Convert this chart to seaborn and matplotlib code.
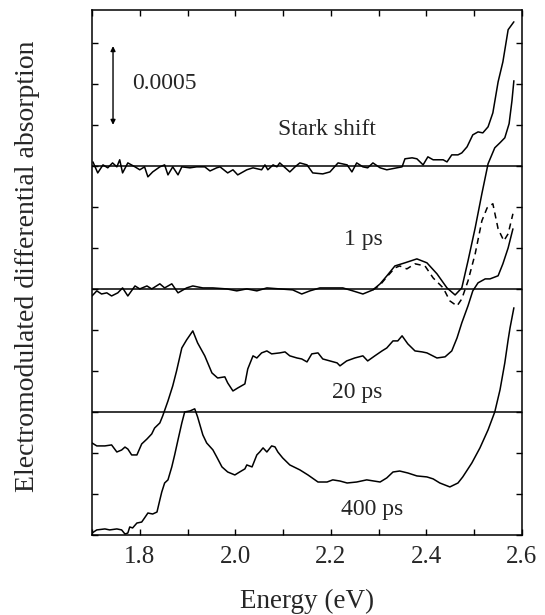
import numpy as np
import pandas as pd
import matplotlib
matplotlib.use("Agg")
import matplotlib.pyplot as plt
import seaborn as sns

# ---- data (signal in units of 1e-4) ----
stark_E = [1.702, 1.712, 1.723, 1.733, 1.743, 1.752, 1.758, 1.764, 1.775, 1.790, 1.800, 1.810,
           1.817, 1.827, 1.842, 1.852, 1.859, 1.869, 1.880, 1.888, 1.905, 1.919, 1.936, 1.947,
           1.961, 1.968, 1.984, 1.995, 2.005, 2.024, 2.037, 2.055, 2.062, 2.068, 2.079, 2.087,
           2.093, 2.114, 2.125, 2.135, 2.150, 2.162, 2.183, 2.198, 2.215, 2.234, 2.244, 2.254,
           2.267, 2.277, 2.288, 2.303, 2.317, 2.338, 2.349, 2.355, 2.370, 2.380, 2.393, 2.403,
           2.414, 2.435, 2.443, 2.453, 2.466, 2.474, 2.485, 2.497, 2.508, 2.518, 2.529, 2.539,
           2.550, 2.560, 2.571, 2.583]
stark_S = [0.24, -0.43, 0.06, -0.12, 0.18, -0.06, 0.37, -0.43, 0.18, -0.06, -0.24, -0.06,
           -0.67, -0.37, -0.06, 0.06, -0.55, -0.06, -0.55, -0.06, -0.12, -0.06, -0.06, -0.31,
           -0.12, -0.06, -0.43, -0.24, -0.55, -0.24, -0.12, -0.24, 0.06, -0.24, 0.06, -0.06,
           0.18, -0.37, -0.06, 0.18, 0.06, -0.43, -0.49, -0.37, 0.18, 0.06, -0.37, 0.18,
           -0.06, -0.12, 0.18, -0.12, -0.24, -0.12, -0.06, 0.43, 0.49, 0.43, 0.06, 0.55,
           0.37, 0.37, 0.24, 0.67, 0.67, 0.79, 1.16, 1.89, 2.07, 2.01, 2.38, 3.23,
           5.12, 6.34, 8.30, 8.78]

ps1_E = [1.700, 1.710, 1.720, 1.731, 1.741, 1.754, 1.764, 1.775, 1.790, 1.800, 1.815, 1.825,
         1.842, 1.852, 1.867, 1.880, 1.898, 1.911, 1.932, 1.953, 1.982, 2.003, 2.024, 2.045,
         2.066, 2.093, 2.120, 2.139, 2.156, 2.177, 2.204, 2.225, 2.246, 2.267, 2.288, 2.303,
         2.317, 2.334, 2.355, 2.380, 2.401, 2.422, 2.443, 2.460, 2.474, 2.487, 2.502, 2.516,
         2.529, 2.543, 2.554, 2.564, 2.573, 2.579, 2.583]
ps1_S = [-0.43, -0.12, -0.31, -0.24, -0.43, -0.24, 0.06, -0.43, 0.18, 0.00, 0.18, 0.00,
         0.31, 0.06, 0.31, -0.24, 0.06, 0.18, 0.06, 0.06, 0.00, -0.12, 0.00, -0.12,
         0.06, 0.00, -0.06, -0.31, -0.12, 0.06, 0.06, 0.06, -0.12, -0.31, -0.06, 0.31,
         0.79, 1.40, 1.59, 1.83, 1.59, 0.92, 0.06, -0.37, 0.06, 1.71, 3.72, 5.80,
         7.63, 8.60, 8.91, 9.21, 10.07, 11.47, 12.69]

ps1_fit_E = [2.288, 2.303, 2.317, 2.334, 2.344, 2.359, 2.376, 2.397, 2.414, 2.435, 2.449, 2.464,
             2.474, 2.487, 2.502, 2.516, 2.527, 2.539, 2.550, 2.562, 2.571, 2.581]
ps1_fit_S = [-0.06, 0.24, 0.73, 1.28, 1.40, 1.22, 1.53, 1.40, 0.67, 0.06, -0.73, -1.04,
             -0.61, 0.49, 2.14, 4.15, 4.94, 5.19, 3.66, 2.93, 3.36, 4.58]

ps20_E = [1.700, 1.710, 1.727, 1.741, 1.752, 1.762, 1.769, 1.775, 1.783, 1.794, 1.804, 1.815,
          1.825, 1.831, 1.842, 1.848, 1.859, 1.869, 1.877, 1.888, 1.898, 1.911, 1.921, 1.936,
          1.951, 1.963, 1.978, 1.984, 1.995, 2.005, 2.020, 2.026, 2.037, 2.045, 2.055, 2.066,
          2.076, 2.093, 2.104, 2.114, 2.129, 2.139, 2.150, 2.160, 2.173, 2.183, 2.198, 2.213,
          2.219, 2.233, 2.250, 2.267, 2.277, 2.292, 2.307, 2.317, 2.330, 2.340, 2.349, 2.361,
          2.376, 2.391, 2.401, 2.422, 2.439, 2.453, 2.464, 2.474, 2.487, 2.497, 2.508, 2.523,
          2.533, 2.550, 2.560, 2.571, 2.581]
ps20_S = [-1.89, -2.07, -2.07, -2.01, -2.44, -2.32, -2.14, -2.26, -2.62, -2.62, -1.95, -1.65,
          -1.34, -0.98, -0.67, -0.24, 0.67, 1.59, 2.50, 3.90, 4.39, 4.94, 4.21, 3.42,
          2.38, 2.07, 2.14, 1.77, 1.28, 1.46, 1.71, 2.62, 3.42, 3.29, 3.60, 3.72,
          3.54, 3.60, 3.66, 3.42, 3.29, 3.23, 3.05, 3.54, 3.60, 3.23, 3.11, 2.99,
          2.81, 3.11, 3.29, 3.42, 3.11, 3.42, 3.72, 3.90, 4.33, 4.33, 4.64, 4.15,
          3.72, 3.66, 3.60, 3.29, 3.36, 3.72, 4.51, 5.43, 6.47, 7.38, 7.87, 8.11,
          8.11, 8.30, 9.03, 10.00, 11.16]

ps400_E = [1.700, 1.710, 1.727, 1.737, 1.752, 1.762, 1.769, 1.775, 1.779, 1.785, 1.794, 1.804,
           1.810, 1.817, 1.827, 1.836, 1.842, 1.846, 1.852, 1.859, 1.867, 1.873, 1.880, 1.888,
           1.894, 1.905, 1.915, 1.921, 1.932, 1.940, 1.953, 1.961, 1.972, 1.984, 1.999, 2.009,
           2.020, 2.024, 2.035, 2.045, 2.051, 2.058, 2.066, 2.076, 2.083, 2.089, 2.099, 2.114,
           2.135, 2.152, 2.173, 2.192, 2.204, 2.219, 2.234, 2.254, 2.275, 2.303, 2.317, 2.330,
           2.344, 2.361, 2.380, 2.401, 2.414, 2.428, 2.449, 2.466, 2.476, 2.495, 2.512, 2.529,
           2.543, 2.554, 2.564, 2.571, 2.575, 2.583]
ps400_S = [0.12, 0.31, 0.37, 0.31, 0.37, 0.31, 0.06, 0.12, 0.49, 0.43, 0.73, 0.79,
           1.04, 1.34, 1.28, 1.40, 2.14, 2.62, 3.17, 3.36, 4.15, 4.88, 5.80, 6.83,
           7.50, 7.56, 7.69, 7.20, 6.10, 5.61, 5.19, 4.76, 4.15, 3.84, 3.66, 3.84,
           4.03, 4.27, 4.15, 4.88, 5.06, 5.31, 5.06, 5.43, 5.37, 5.06, 4.70, 4.27,
           3.97, 3.66, 3.23, 3.23, 3.36, 3.29, 3.17, 3.23, 3.36, 3.23, 3.48, 3.84,
           3.90, 3.78, 3.60, 3.54, 3.42, 3.17, 2.93, 3.17, 3.54, 4.39, 5.31, 6.41,
           7.50, 8.85, 10.49, 11.90, 12.63, 13.85]

offsets = {"Stark shift": 22.5, "1 ps": 15.0, "20 ps": 7.5, "400 ps": 0.0}
baselines = [22.5, 15.0, 7.5]
xticks = [1.8, 2.0, 2.2, 2.4, 2.6]

# ---- figure ----
sns.set_style("ticks")
plt.rcParams["font.family"] = ["Liberation Serif", "DejaVu Serif"]

fig = plt.figure(figsize=(5.45, 6.15), dpi=100)
ax = fig.add_axes([92 / 545, 1 - 535 / 615, (522 - 92) / 545, (535 - 10) / 615])

def draw(E, S, off, ls="-"):
    df = pd.DataFrame({"E": E, "y": np.asarray(S) + off})
    sns.lineplot(data=df, x="E", y="y", ax=ax, color="black", lw=1.1,
                 estimator=None, sort=False, linestyle=ls)

draw(stark_E, stark_S, offsets["Stark shift"])
draw(ps1_E, ps1_S, offsets["1 ps"])
draw(ps1_fit_E, ps1_fit_S, offsets["1 ps"], ls=(0, (4, 3)))
draw(ps20_E, ps20_S, offsets["20 ps"])
draw(ps400_E, ps400_S, offsets["400 ps"])

for b in baselines:
    ax.axhline(b, color="black", lw=1.1)

ax.set_xlim(1.7, 2.6)
ax.set_ylim(0, 32.0)
ax.set_xticks(xticks)
ax.set_xticklabels([f"{v:.1f}" for v in xticks])
ax.set_xticks(np.arange(1.7, 2.61, 0.1), minor=True)
ax.set_yticks(np.arange(0, 31, 2.5))
ax.set_yticklabels([])
ax.tick_params(axis="both", which="both", direction="in", top=True, right=True,
               length=4, width=1.0, color="black")
ax.tick_params(axis="x", which="major", labelsize=18, pad=8)
for s in ax.spines.values():
    s.set_linewidth(1.1)
    s.set_color("black")
ax.set_xlabel("")
ax.set_ylabel("")

fig.text(307 / 545, 1 - 601 / 615, "Energy (eV)", ha="center", va="center", fontsize=19.5)
fig.text(28 / 545, 1 - 266 / 615, "Electromodulated differential absorption",
         rotation=90, ha="center", va="center", fontsize=20)

ax.text(2.192, 24.7, "Stark shift", ha="center", va="center", fontsize=17)
ax.text(2.267, 18.0, "1 ps", ha="center", va="center", fontsize=17)
ax.text(2.254, 8.66, "20 ps", ha="center", va="center", fontsize=17)
ax.text(2.286, 1.53, "400 ps", ha="center", va="center", fontsize=17)
ax.text(1.785, 27.5, "0.0005", ha="left", va="center", fontsize=17)
ax.annotate("", xy=(1.744, 29.8), xytext=(1.744, 25.0),
            arrowprops=dict(arrowstyle="<|-|>", color="black", lw=1.0,
                            mutation_scale=7, shrinkA=0, shrinkB=0))

fig.savefig("out.png", dpi=100)
